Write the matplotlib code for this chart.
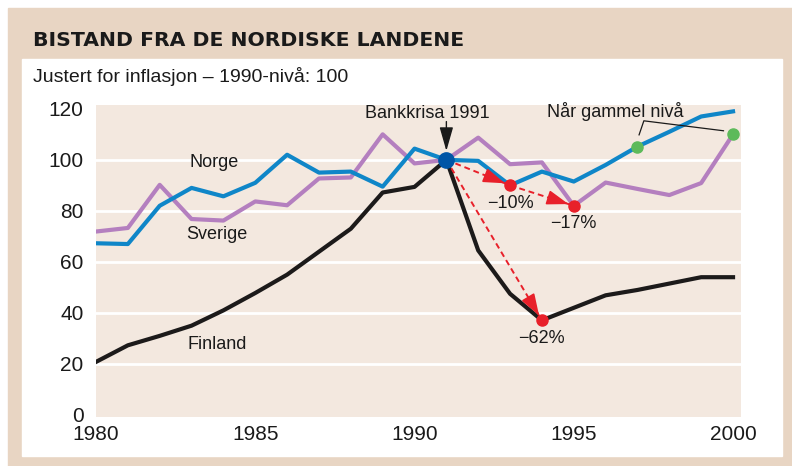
import matplotlib.pyplot as plt
from matplotlib.patches import Rectangle
import numpy as np

# data (index, 1990-level = 100)
years = list(range(1980, 2001))
norge = [67.3, 67.0, 82.0, 89.0, 85.7, 91.0, 102.0, 95.0, 95.4, 89.5, 104.4,
         100.0, 99.6, 90.0, 95.4, 91.5, 98.0, 105.2, 111.0, 117.0, 119.0]
sverige = [71.9, 73.3, 90.2, 76.8, 76.2, 83.7, 82.2, 92.7, 93.1, 110.0, 98.6,
           100.0, 108.7, 98.3, 99.0, 82.0, 91.1, 88.6, 86.2, 90.9, 110.0]
finland = [20.8, 27.3, 31.0, 35.0, 41.0, 47.8, 55.0, 64.0, 73.0, 87.2, 89.4,
           100.0, 64.5, 47.5, 37.1, 42.0, 46.9, 49.0, 51.5, 54.0, 54.0]

crisis = (1991, 100)
drops = [(1993, 90.0, '\u221210%'), (1995, 82.0, '\u221217%'), (1994, 37.1, '\u221262%')]
recovered = [(1997, 105.2), (2000, 110.0)]

c_norge = '#0f86c8'
c_sverige = '#b47fbf'
c_finland = '#1c1a1a'
c_red = '#e8202a'
c_green = '#5dba5a'
beige = '#e8d5c3'
plotbg = '#f3e8df'

plt.rcParams['font.family'] = ['Liberation Sans', 'DejaVu Sans']

fig = plt.figure(figsize=(7.92, 4.66), dpi=100)
fig.patches.append(Rectangle((8/792, 0), 1, 458/466, transform=fig.transFigure,
                             color=beige, zorder=-3))
fig.patches.append(Rectangle((22/792, 10/466), 760/792, 397/466, transform=fig.transFigure,
                             color='white', zorder=-2))
fig.text(33/792, 1 - 40/466, 'BISTAND FRA DE NORDISKE LANDENE', fontsize=14.7,
         fontweight='bold', family='DejaVu Sans', va='center', ha='left', color='#1a1a1a')
fig.text(33/792, 1 - 76/466, 'Justert for inflasjon \u2013 1990-niv\u00e5: 100', fontsize=14,
         va='center', ha='left', color='#1a1a1a')

ax = fig.add_axes([96/792, 49/466, 645/792, 312/466])
ax.set_facecolor(plotbg)
ax.set_xlim(1980, 2000.25)
ax.set_ylim(-0.8, 121.5)
for s in ax.spines.values():
    s.set_visible(False)
for g in [20, 40, 60, 80, 100]:
    ax.axhline(g, color='white', lw=2, zorder=1)

ax.set_yticks([0, 20, 40, 60, 80, 100, 120])
ax.set_xticks([1980, 1985, 1990, 1995, 2000])
ax.tick_params(length=0, labelsize=15, colors='#1a1a1a', pad=9)
ax.tick_params(axis='x', pad=6)

ax.plot(years, finland, color=c_finland, lw=3, zorder=3)
ax.plot(years, sverige, color=c_sverige, lw=3, zorder=3)
ax.plot(years, norge, color=c_norge, lw=3, zorder=3)

ax.text(1983.7, 98.8, 'Norge', fontsize=13, ha='center', va='center', color='#1a1a1a')
ax.text(1983.8, 70.6, 'Sverige', fontsize=13, ha='center', va='center', color='#1a1a1a')
ax.text(1983.8, 27.8, 'Finland', fontsize=13, ha='center', va='center', color='#1a1a1a')

# dashed red arrows from the crisis point (dashed shaft + solid head)
starts = [crisis, (drops[0][0], drops[0][1]), crisis]
for (x0, y0), (x1, y1, lab) in zip(starts, drops):
    ax.plot([x0, x1], [y0, y1], color=c_red, lw=1.4, ls=(0, (3, 2)), zorder=4)
    p0 = ax.transData.transform((x0, y0))
    p1 = ax.transData.transform((x1, y1))
    d = (p1 - p0) / np.hypot(*(p1 - p0))
    back = -d * 22 * 72 / fig.dpi
    ax.annotate('', xy=(x1, y1), xytext=(back[0], back[1]), textcoords='offset points',
                zorder=4,
                arrowprops=dict(arrowstyle='-|>,head_length=0.95,head_width=0.32',
                                color=c_red, lw=1.2, shrinkA=0, shrinkB=4,
                                mutation_scale=14))
for x1, y1, lab in drops:
    ax.plot(x1, y1, 'o', color=c_red, ms=8, zorder=5)
    ax.text(x1, y1 - 7, lab, fontsize=13, ha='center', va='center', color='#1a1a1a')

ax.plot(*crisis, 'o', color='#0055a6', ms=11, zorder=6)
ax.annotate('', xy=(crisis[0], crisis[1] + 3.5), xytext=(crisis[0], crisis[1] + 15),
            arrowprops=dict(arrowstyle='-|>,head_length=1.05,head_width=0.3',
                            color='#1a1a1a', lw=1, mutation_scale=14,
                            shrinkA=0, shrinkB=0), zorder=6)
ax.text(1990.4, 118.0, 'Bankkrisa 1991', fontsize=13, ha='center', va='center',
        color='#1a1a1a')

# "Når gammel nivå" leader lines
g1, g2 = recovered
ax.plot([g1[0] + 0.05, g1[0] + 0.2, g2[0] - 0.3], [g1[1] + 4.6, g1[1] + 10.1, g2[1] + 1.4],
        color='#1a1a1a', lw=0.9, zorder=4)
for gx, gy in recovered:
    ax.plot(gx, gy, 'o', color=c_green, ms=8, zorder=5)
ax.text(1996.3, 118.8, 'N\u00e5r gammel niv\u00e5', fontsize=13, ha='center', va='center',
        color='#1a1a1a')

fig.savefig('out.png', dpi=100)
